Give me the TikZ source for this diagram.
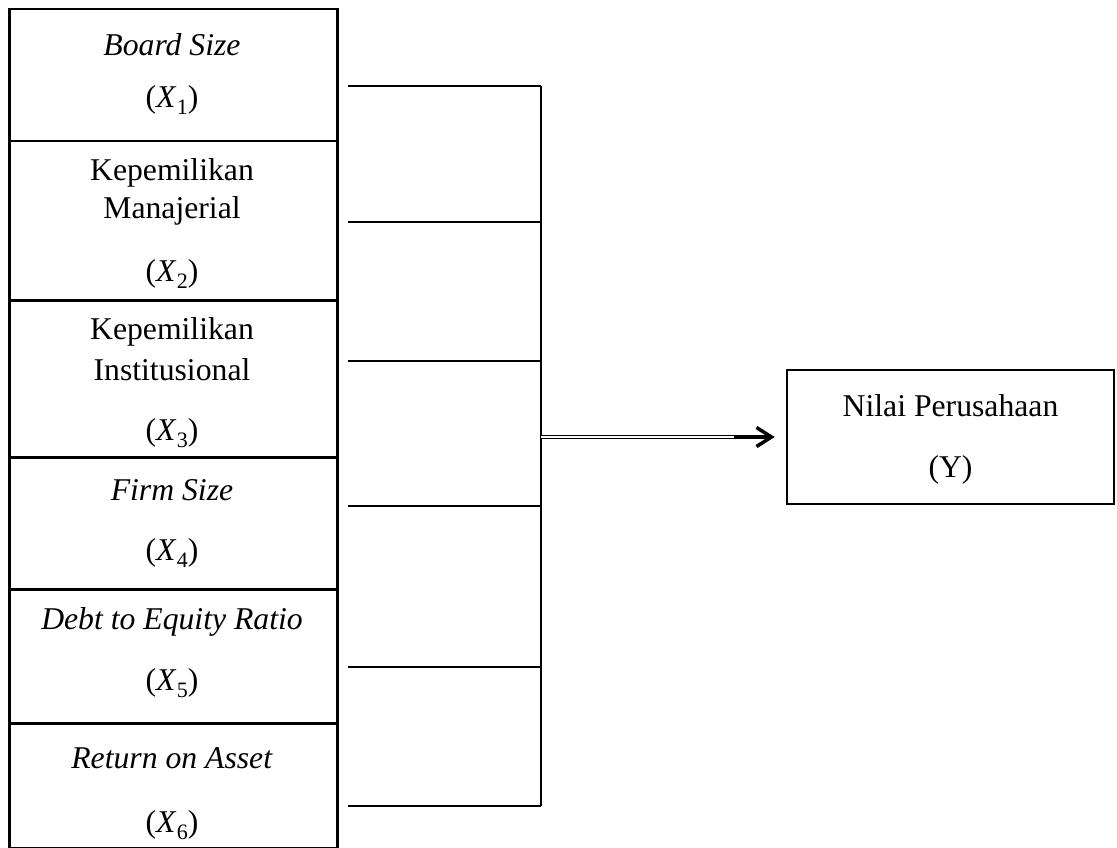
\documentclass[tikz,border=0pt]{standalone}
\usepackage{fontspec}
\setmainfont{Liberation Serif}
\usetikzlibrary{arrows.meta}
\newcommand{\xv}[1]{(\textit{X}\kern0.5pt\raisebox{-0.22em}{\fontsize{22}{22}\selectfont #1})}
\begin{document}
\begin{tikzpicture}[x=1pt,y=-1pt,
  txt/.style={font=\fontsize{31.7}{38}\selectfont, inner sep=0pt},
  lbox/.style={draw, line width=2.5pt, minimum width=328pt, inner sep=0pt, anchor=north west},
  ybox/.style={draw, line width=2.5pt, minimum width=327pt, minimum height=134pt, inner sep=0pt},
  conn/.style={line width=1.3pt},
  dbl/.style={line width=1.2pt, double, double distance=1.3pt},
  head/.style={line width=3.5pt, -{Straight Barb[length=15pt, width=19pt]}, shorten >=11pt}]
\useasboundingbox (0,0) rectangle (1117,848);
% left boxes
\node[lbox, minimum height=132pt] (b1) at (8,8) {};
\node[lbox, minimum height=159pt] (b2) at (8,140) {};
\node[lbox, minimum height=157pt] (b3) at (8,299) {};
\node[lbox, minimum height=132pt] (b4) at (8,456) {};
\node[lbox, minimum height=134pt] (b5) at (8,588) {};
\node[lbox, minimum height=124.5pt] (b6) at (8,722) {};
% texts
\node[txt] (t1a) at (172,45) {\textit{Board Size}};
\node[txt] (t1b) at (172,100) {\xv{1}};
\node[txt] (t2a) at (172,173) {Kepemilikan};
\node[txt] (t2b) at (172,211) {Manajerial};
\node[txt] (t2c) at (172,274) {\xv{2}};
\node[txt] (t3a) at (172,332) {Kepemilikan};
\node[txt] (t3b) at (172,370) {Institusional};
\node[txt] (t3c) at (172,433) {\xv{3}};
\node[txt] (t4a) at (172,490) {\textit{Firm Size}};
\node[txt] (t4b) at (172,553) {\xv{4}};
\node[txt] (t5a) at (172,622) {\textit{Debt to Equity Ratio}};
\node[txt] (t5b) at (172,683) {\xv{5}};
\node[txt] (t6a) at (172,758) {\textit{Return on Asset}};
\node[txt] (t6b) at (172,825) {\xv{6}};
% right box
\node[ybox] (y) at (950.5,437) {};
\node[txt] (ya) at (950.5,406) {Nilai Perusahaan};
\node[txt] (yb) at (950.5,470) {(Y)};
% connector coordinates
\coordinate (s1) at (348,86);  \coordinate (j1) at (541,86);
\coordinate (s2) at (348,222); \coordinate (j2) at (541,222);
\coordinate (s3) at (348,361); \coordinate (j3) at (541,361);
\coordinate (s4) at (348,506); \coordinate (j4) at (541,506);
\coordinate (s5) at (348,667); \coordinate (j5) at (541,667);
\coordinate (s6) at (348,806); \coordinate (j6) at (541,806);
\coordinate (jm) at (541,437);
\coordinate (ah) at (734,437);
\foreach \i in {1,...,6} \draw[conn] (s\i) -- (j\i);
\draw[conn] (j1) -- (j6);
\draw[dbl] (jm) -- (ah);
\draw[head] (ah) -- (y);
\end{tikzpicture}
\end{document}
